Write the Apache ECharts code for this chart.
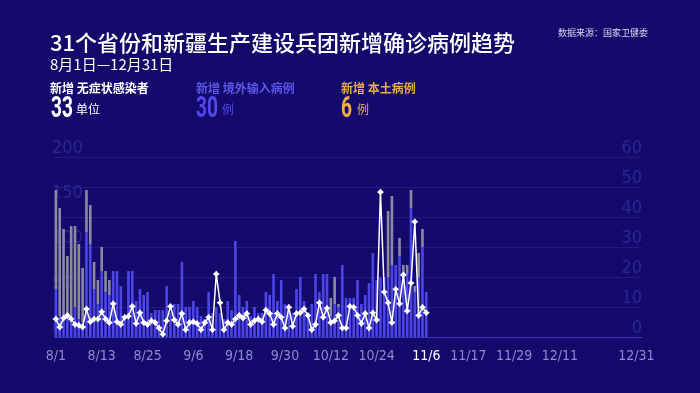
<!DOCTYPE html>
<html><head><meta charset="utf-8">
<script src="https://cdn.jsdelivr.net/npm/echarts@6/dist/echarts.min.js"></script>
<style>html,body{margin:0;padding:0;background:#130a6b;}#c{width:700px;height:393px;}</style>
</head><body><div id="c"></div>
<script>
// categories: daily dates 8/1 .. 1/1
const categories = [];
(function(){
  const d = new Date(2020, 7, 1);
  for (let i = 0; i < 154; i++) {
    categories.push((d.getMonth() + 1) + '/' + d.getDate());
    d.setDate(d.getDate() + 1);
  }
})();
const tickLabels = ['8/1','8/13','8/25','9/6','9/18','9/30','10/12','10/24','11/6','11/17','11/29','12/11','12/31'];
const currentLabel = '11/6';

// 境外输入 (right axis, stacked bottom)
const imported = [
  16,7,6,7,6,10,6,5,35,31,
  16,11,22,15,14,22,22,17,7,22,
  22,12,16,14,15,8,9,9,9,17,
  8,11,11,25,10,10,12,10,7,6,
  15,8,10,8,6,12,9,32,14,10,
  12,7,10,8,8,15,14,21,12,19,
  11,10,8,16,20,12,8,11,21,15,
  21,21,7,11,10,24,13,13,13,19,
  11,14,18,28,19,20,20,20,24,24,
  27,21,21,43,15,20,30,15
];
// 本土 (right axis, stacked top)
const local = [
  33,36,30,20,31,27,25,18,14,13,
  9,8,8,7,5,0,0,0,0,0,
  0,0,0,0,0,0,0,0,0,0,
  0,0,0,0,0,0,0,0,0,0,
  0,0,0,0,0,0,0,0,0,0,
  0,0,0,0,0,0,0,0,0,0,
  0,0,0,0,0,0,0,0,0,0,
  0,0,6,9,1,0,0,0,0,0,
  0,0,0,0,0,0,0,22,23,0,
  6,3,3,6,2,8,6,0
];
// 无症状感染者 (left axis, line)
const asymptomatic = [
  20,11,21,24,20,14,13,11,31,17,
  20,20,28,20,16,37,17,14,22,23,
  34,15,27,16,14,18,16,10,3,18,
  34,19,14,26,8,16,17,15,8,16,
  22,8,70,38,8,16,14,20,24,21,
  26,14,18,20,17,30,26,14,26,22,
  10,33,12,26,27,31,24,8,14,38,
  22,32,16,18,24,10,10,34,33,24,
  15,26,10,27,19,161,50,38,16,53,
  37,69,29,60,128,24,33,27
];
const leftTicks = [0, 50, 100, 150, 200];
const rightTicks = [0, 10, 20, 30, 40, 50, 60];

const NARROW = "'DejaVu Sans Condensed','Liberation Sans Narrow',sans-serif";
const CJK = "'Noto Sans CJK SC','Noto Sans',sans-serif";
const NUM = "Roboto,'Liberation Sans',sans-serif";

function bigNum(txt, x, color) {
  return {type: 'text', x: x, y: 95, scaleX: 0.66, z: 10,
          style: {text: txt, fill: color, font: 'bold 29px ' + NUM, textVerticalAlign: 'top'}};
}

const chart = echarts.init(document.getElementById('c'), null, {renderer: 'canvas'});
chart.setOption({
  backgroundColor: '#130a6b',
  animation: false,
  grid: {left: 54, right: 58, top: 157, bottom: 56},
  graphic: [
    {type: 'text', left: 50, top: 32, style: {text: '31个省份和新疆生产建设兵团新增确诊病例趋势', fill: '#ffffff', font: '500 22px ' + CJK}},
    {type: 'text', left: 50, top: 57, style: {text: '8月1日—12月31日', fill: '#ffffff', font: '15px ' + CJK}},
    {type: 'text', left: 558, top: 28, style: {text: '数据来源：国家卫健委', fill: '#d8d8ee', font: '9px ' + CJK}},

    {type: 'text', left: 50, top: 82, style: {text: '新增 无症状感染者', fill: '#ffffff', font: 'bold 12px ' + CJK}},
    bigNum('33', 51, '#ffffff'),
    {type: 'text', left: 76, top: 103, style: {text: '单位', fill: '#ffffff', font: '12px ' + CJK}},

    {type: 'text', left: 196, top: 82, style: {text: '新增 境外输入病例', fill: '#5d56ea', font: 'bold 12px ' + CJK}},
    bigNum('30', 196, '#5148ee'),
    {type: 'text', left: 222, top: 103, style: {text: '例', fill: '#5148ee', font: '12px ' + CJK}},

    {type: 'text', left: 341, top: 82, style: {text: '新增 本土病例', fill: '#e9a94c', font: 'bold 12px ' + CJK}},
    bigNum('6', 341, '#f0ad47'),
    {type: 'text', left: 357, top: 103, style: {text: '例', fill: '#f0ad47', font: '12px ' + CJK}}
  ],
  xAxis: {
    type: 'category',
    data: categories,
    boundaryGap: true,
    axisLine: {lineStyle: {color: '#3d36b8', width: 1}},
    axisTick: {show: false},
    axisLabel: {
      interval: function (idx, val) { return tickLabels.indexOf(val) >= 0; },
      margin: 12,
      color: '#8d8bcf',
      fontFamily: NARROW,
      fontSize: 14,
      formatter: function (v) { return v === currentLabel ? '{cur|' + v + '}' : v; },
      rich: {cur: {color: '#ffffff', fontFamily: NARROW, fontSize: 14}}
    },
    splitLine: {show: false}
  },
  yAxis: [
    {
      type: 'value', position: 'left', min: leftTicks[0], max: leftTicks[leftTicks.length - 1], interval: 50,
      axisLine: {show: false}, axisTick: {show: false}, splitLine: {show: false},
      axisLabel: {inside: true, margin: -2, verticalAlign: 'bottom', color: '#2c2692', fontSize: 18, fontFamily: NARROW}
    },
    {
      type: 'value', position: 'right', min: rightTicks[0], max: rightTicks[rightTicks.length - 1], interval: 10,
      axisLine: {show: false}, axisTick: {show: false},
      splitLine: {lineStyle: {color: '#221a86', width: 1}},
      axisLabel: {inside: true, margin: 0, verticalAlign: 'bottom', color: '#2c2692', fontSize: 18, fontFamily: NARROW}
    }
  ],
  series: [
    {name: '境外输入', type: 'bar', yAxisIndex: 1, stack: 'c', data: imported, barWidth: '68%',
     itemStyle: {color: '#4c46e8'}},
    {name: '本土', type: 'bar', yAxisIndex: 1, stack: 'c', data: local, barWidth: '68%',
     itemStyle: {color: '#8c8b9e'}},
    {name: '无症状感染者', type: 'line', yAxisIndex: 0, data: asymptomatic, z: 5,
     symbol: 'path://M0,-5 L2.2,-2.2 L5,0 L2.2,2.2 L0,5 L-2.2,2.2 L-5,0 L-2.2,-2.2 Z', symbolSize: 7,
     showAllSymbol: true,
     lineStyle: {color: '#ffffff', width: 1.5}, itemStyle: {color: '#ffffff'}}
  ]
});
</script></body></html>
